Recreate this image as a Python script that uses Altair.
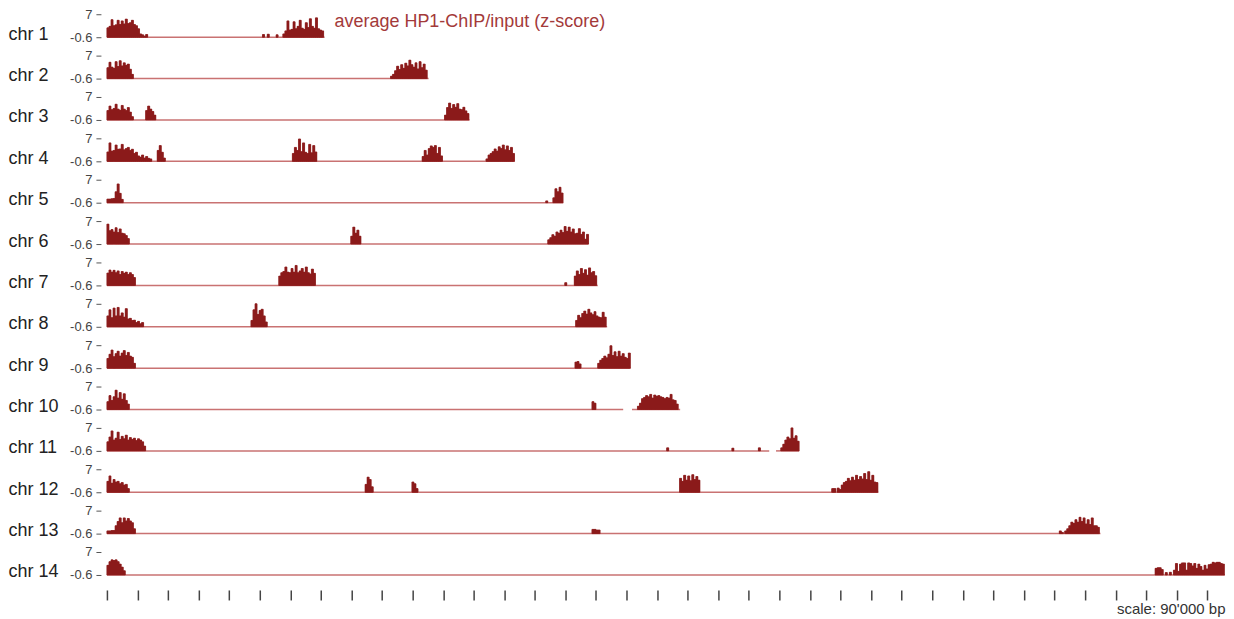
import altair as alt
import pandas as pd

CHR_NAMES = ["chr 1", "chr 2", "chr 3", "chr 4", "chr 5", "chr 6", "chr 7",
             "chr 8", "chr 9", "chr 10", "chr 11", "chr 12", "chr 13", "chr 14"]
CHR_LEN_KB = [640.9, 947.1, 1068.0, 1200.5, 1343.6, 1418.2, 1445.2,
              1472.8, 1541.7, 1687.7, 2038.3, 2271.5, 2925.2, 3291.9]
BIN_KB = 6
BASE = -0.6
X_TICKS_KB = [0, 90, 180, 270, 360, 450, 540, 630, 720, 810, 900, 990, 1080,
              1170, 1260, 1350, 1440, 1530, 1620, 1710, 1800, 1890, 1980, 2070,
              2160, 2250, 2340, 2430, 2520, 2610, 2700, 2790, 2880, 2970, 3060,
              3150, 3240]
TITLE_TEXT = "average HP1-ChIP/input (z-score)"

# signal blocks: (start in kb, z-scores for consecutive 6-kb bins)
chr1_blocks = [(0, [2.5, 3.0, 5.2, 3.2, 3.5, 5.0, 3.6, 4.8, 3.8, 5.4, 3.9, 4.2, 5.0, 3.6, 3.2, 2.2, 0.5, 0.2, -0.2, 0.3]),
               (458, [0.3]), (472, [0.4]), (498, [0.2]),
               (518, [0.5, 1.5, 4.8, 1.8, 2.0, 4.5, 2.2, 3.0, 5.0, 2.4, 2.0, 4.2, 2.6, 5.5, 3.0, 2.4, 5.8, 2.2, 1.8, 1.5])]
chr2_blocks = [(0, [3.0, 4.8, 3.2, 2.8, 5.0, 3.4, 5.3, 3.6, 4.6, 3.8, 4.2, 2.5, 0.8]),
               (835, [0.2, 0.8, 2.0, 3.5, 2.4, 4.0, 2.8, 4.5, 3.6, 5.5, 4.0, 3.2, 4.6, 2.6, 5.0, 3.0, 4.2, 2.2])]
chr3_blocks = [(0, [2.5, 4.0, 2.8, 3.2, 4.6, 3.0, 2.6, 4.2, 3.0, 2.5, 3.5, 2.0, 0.5]),
               (114, [2.5, 4.0, 3.0, 2.2, 1.0]),
               (994, [1.0, 3.5, 5.0, 3.2, 4.5, 3.6, 4.8, 3.0, 2.8, 3.6, 2.4, 1.5])]
chr4_blocks = [(0, [2.5, 5.5, 2.8, 3.0, 4.8, 3.4, 3.5, 5.0, 3.2, 3.6, 4.0, 3.0, 3.4, 2.0, 2.4, 1.2, 0.8, 1.5, 0.5, 1.0, 0.4, 0.2]),
               (148, [3.0, 4.6, 2.4, 0.5]),
               (546, [2.0, 4.0, 3.0, 6.8, 2.6, 5.5, 2.4, 2.0, 5.0, 2.2, 4.6, 2.5]),
               (928, [1.0, 3.0, 1.5, 3.6, 4.5, 4.0, 4.6, 2.0, 4.0, 1.2]),
               (1116, [0.2, 1.5, 2.0, 2.6, 3.5, 2.8, 4.2, 3.6, 4.8, 3.2, 4.5, 3.0, 4.0, 2.0])]
chr5_blocks = [(0, [0.6, 0.6, 0.7, 0.8, 3.0, 5.6, 2.5, 0.5]),
               (1292, [0.0]),
               (1313, [1.0, 4.0, 3.0, 4.5, 2.6])]
chr6_blocks = [(0, [6.0, 3.8, 4.2, 3.4, 4.8, 3.2, 4.4, 3.0, 2.8, 2.2, 1.2]),
               (718, [2.0, 5.0, 3.0, 4.0, 2.0]),
               (1298, [0.8, 1.5, 2.5, 2.0, 3.4, 3.0, 4.0, 3.2, 5.2, 3.6, 5.0, 3.4, 4.4, 2.8, 3.0, 4.5, 2.6, 3.4, 1.0, 2.6])]
chr7_blocks = [(0, [3.5, 4.5, 3.8, 4.4, 3.6, 4.2, 3.0, 4.0, 3.4, 3.8, 3.0, 3.6, 3.0, 2.0]),
               (506, [2.5, 3.6, 4.0, 5.5, 3.8, 3.6, 5.0, 3.8, 6.0, 3.6, 4.2, 5.0, 3.8, 5.5, 3.6, 3.2, 4.8, 3.4]),
               (1348, [0.3]),
               (1376, [2.5, 4.2, 3.0, 5.0, 3.4, 4.6, 2.8, 5.2, 3.6, 4.0, 2.6])]
chr8_blocks = [(0, [3.0, 5.0, 2.4, 5.6, 3.0, 5.8, 3.0, 4.0, 2.6, 5.4, 2.0, 2.2, 1.5, 1.6, 0.8, 1.2, 0.4, 0.8]),
               (424, [1.5, 5.0, 7.0, 3.5, 4.8, 5.2, 3.0, 1.0]),
               (1380, [1.5, 3.2, 2.4, 3.8, 4.6, 3.6, 5.2, 4.0, 3.4, 4.4, 3.0, 2.6, 2.4, 4.2, 2.6])]
chr9_blocks = [(0, [2.6, 4.0, 5.4, 3.2, 4.2, 5.0, 3.4, 4.4, 5.2, 3.6, 4.6, 3.4, 3.0, 1.0]),
               (1378, [1.4, 1.6, 0.8]),
               (1445, [1.0, 2.0, 2.6, 3.4, 2.8, 4.0, 6.8, 3.6, 4.8, 3.2, 5.0, 3.4, 4.2, 3.0, 2.6, 4.4])]
chr10_blocks = [(0, [2.0, 4.0, 2.4, 3.6, 5.8, 3.2, 5.0, 2.8, 4.6, 2.4, 1.2]),
                (1428, [2.0, 1.5]),
                (1562, [0.5, 1.5, 3.0, 3.4, 4.0, 3.6, 4.4, 3.2, 4.2, 3.8, 4.0, 3.6, 3.4, 3.0, 3.4, 3.2, 4.4, 2.6, 2.4, 1.2])]
chr11_blocks = [(0, [2.4, 4.0, 6.0, 3.0, 3.6, 5.6, 3.2, 4.2, 3.4, 4.6, 3.0, 3.8, 3.2, 3.6, 2.8, 3.4, 3.0, 2.4, 1.0]),
                (1648, [0.4]), (1840, [0.3]), (1918, [0.4]),
                (1984, [0.4, 1.6, 3.0, 4.0, 3.4, 7.0, 3.6, 4.4, 2.6])]
chr12_blocks = [(0, [3.0, 4.8, 2.4, 3.6, 2.8, 3.0, 2.2, 2.6, 1.8, 2.0, 0.6]),
                (760, [2.0, 4.4, 3.6, 1.2]),
                (898, [2.8, 2.2, 0.6]),
                (1686, [4.0, 3.0, 5.0, 3.4, 4.8, 3.2, 5.2, 3.6, 4.6, 3.4]),
                (2134, [0.6, 0.6]),
                (2150, [0.8, 0.3, 1.8, 2.6, 3.0, 4.0, 3.2, 4.4, 3.4, 5.0, 3.6, 4.6, 3.8, 5.6, 3.6, 6.2, 3.4, 5.0, 2.8, 2.6])]
chr13_blocks = [(0, [0.3, 0.3, 0.4, 0.4, 2.0, 3.4, 4.6, 3.0, 4.6, 3.6, 4.4, 3.6, 3.0, 1.0]),
                (1428, [0.8, 0.8, 0.6, 0.6]),
                (2804, [0.3, -0.2]),
                (2820, [0.3, 1.0, 2.0, 3.2, 2.8, 4.0, 3.2, 4.8, 3.4, 4.6, 2.6, 4.0, 2.4, 4.6, 2.0, 2.0, 1.5])]
chr14_blocks = [(0, [2.6, 3.8, 4.4, 4.2, 4.4, 3.8, 3.0, 2.0, 0.8]),
                (3086, [1.6, 1.8, 1.8, 1.2]),
                (3116, [0.2]), (3128, [0.3]),
                (3140, [1.0, 3.2, 0.6, 3.0, 3.4, 3.4, 1.0, 3.4, 3.2, 2.4, 3.2, 1.6, 3.0, 2.2, 1.0, 2.6, 1.4, 2.8, 3.0, 3.6, 3.4, 3.6, 3.6, 3.2, 3.0])]

BLOCKS = [chr1_blocks, chr2_blocks, chr3_blocks, chr4_blocks, chr5_blocks, chr6_blocks, chr7_blocks,
          chr8_blocks, chr9_blocks, chr10_blocks, chr11_blocks, chr12_blocks, chr13_blocks, chr14_blocks]

# covered stretches of each chromosome (gaps where no data)
SEGMENTS = {"chr 10": [(0, 1520), (1546, 1687.7)],
            "chr 11": [(0, 1950), (1970, 2038.3)]}

FONT = "Liberation Sans"
FILL = "#8b1a1a"
xscale = alt.Scale(domain=[0, 3291.9], nice=False, zero=False)
yscale = alt.Scale(domain=[-0.6, 7], nice=False, zero=False)


def x_axis(last):
    if not last:
        return None
    return alt.Axis(values=X_TICKS_KB, labels=False, tickSize=10, tickWidth=1.5, tickColor="#444",
                    domain=False, grid=False, offset=15, title="scale: 90'000 bp",
                    titleAnchor="end", titleFont=FONT, titleFontSize=15, titleFontWeight="normal",
                    titleColor="#333", titlePadding=1)


def y_axis(name):
    return alt.Axis(values=[-0.6, 7], labelExpr="datum.value < 0 ? '-0.6' : '7'", tickSize=5,
                    tickColor="#555", domain=False, grid=False, offset=6, labelFont=FONT,
                    labelFontSize=13, labelColor="#444", labelPadding=4,
                    title=name, titleAngle=0, titleAlign="left", titleBaseline="alphabetic",
                    titleX=-93, titleY=25, titleFont=FONT, titleFontSize=18,
                    titleFontWeight="normal", titleColor="#222")


panels = []
for k, (name, length, blocks) in enumerate(zip(CHR_NAMES, CHR_LEN_KB, BLOCKS)):
    last = k == len(CHR_NAMES) - 1
    seg_rows = [{"pos": s, "end": e, "val": BASE} for s, e in SEGMENTS.get(name, [(0, length)])]
    bin_rows = []
    step_rows = []
    for start, vals in blocks:
        for i, v in enumerate(vals):
            p = start + i * BIN_KB
            bin_rows.append({"pos": p, "end": min(p + BIN_KB, length), "val": v, "base": BASE})
            step_rows.append({"pos": p, "val": v, "base": BASE})
        step_rows.append({"pos": min(start + len(vals) * BIN_KB, length), "val": BASE, "base": BASE})
    xa = x_axis(last)
    ya = y_axis(name)
    rule = alt.Chart(pd.DataFrame(seg_rows)).mark_rule(color="#c97272", strokeWidth=1.5).encode(
        x=alt.X("pos:Q", scale=xscale, axis=xa),
        x2="end:Q",
        y=alt.Y("val:Q", scale=yscale, axis=ya),
    )
    bins = alt.Chart(pd.DataFrame(bin_rows)).mark_rect(
        color=FILL, stroke=FILL, strokeWidth=0.7).encode(
        x=alt.X("pos:Q", scale=xscale, axis=xa),
        x2="end:Q",
        y=alt.Y("val:Q", scale=yscale, axis=ya),
        y2="base:Q",
    )
    steps = alt.Chart(pd.DataFrame(step_rows)).mark_area(
        color=FILL, interpolate="step-after").encode(
        x=alt.X("pos:Q", scale=xscale, axis=xa),
        y=alt.Y("val:Q", scale=yscale, axis=ya),
        y2="base:Q",
    )
    layers = [rule, bins, steps]
    if k == 0:
        txt = alt.Chart(pd.DataFrame([{"pos": 670, "val": 4.4, "label": TITLE_TEXT}])).mark_text(
            align="left", baseline="middle", font=FONT, fontSize=18, color="#a33a3a").encode(
            x=alt.X("pos:Q", scale=xscale, axis=xa),
            y=alt.Y("val:Q", scale=yscale, axis=ya),
            text="label:N",
        )
        layers.append(txt)
    panels.append(alt.layer(*layers).properties(width=1119, height=23))

chart = alt.vconcat(*panels, spacing=18.4, bounds="flush").configure_view(stroke=None).properties(
    padding={"left": 0, "top": 0, "right": 0, "bottom": 0})

chart.save("out.html", embed_options={"renderer": "svg", "actions": False})
